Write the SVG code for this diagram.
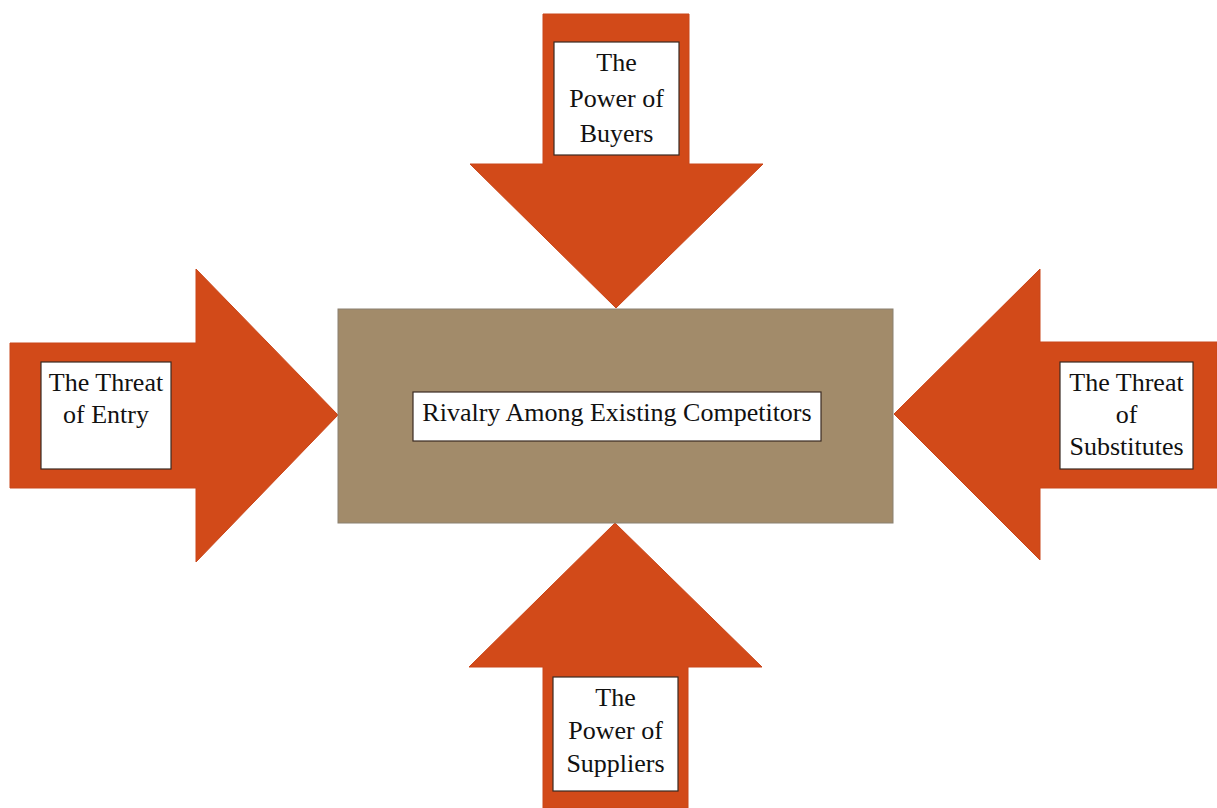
<svg xmlns="http://www.w3.org/2000/svg" width="1217" height="808" viewBox="0 0 1217 808">
  <style>
    .arrow { fill: #D24A19; stroke: #C9461A; stroke-width: 1; }
    .core { fill: #A28B6A; stroke: #8A8070; stroke-width: 1; }
    .box { fill: #FFFFFF; stroke: #3A2A22; stroke-width: 1.2; }
    .label { font-family: "Liberation Serif", "Times New Roman", serif; font-size: 26px; fill: #111111; text-anchor: middle; }
  </style>
  <rect width="1217" height="808" fill="#FFFFFF"/>

  <!-- block arrows pointing at the centre -->
  <g id="connectors">
    <polygon id="arrow-buyers" class="arrow" points="543,14 689,14 689,164 763,164 616,308 470,164 543,164"/>
    <polygon id="arrow-entry" class="arrow" points="10,343 196,343 196,269 338,415 196,562 196,488 10,488"/>
    <polygon id="arrow-substitutes" class="arrow" points="1217,342 1040,342 1040,269 894,414 1040,560 1040,488 1217,488"/>
    <polygon id="arrow-suppliers" class="arrow" points="543,808 543,667 469,667 615,523 762,667 688,667 688,808"/>
  </g>

  <!-- central force -->
  <g id="node-rivalry">
    <rect class="core" x="338" y="309" width="555" height="214"/>
    <rect class="box" x="413" y="392" width="408" height="49"/>
    <text class="label" x="617" y="421">Rivalry Among Existing Competitors</text>
  </g>

  <g id="node-buyers">
    <rect class="box" x="554" y="42" width="125" height="113"/>
    <text class="label" x="616.5" y="71">The</text>
    <text class="label" x="616.5" y="107">Power of</text>
    <text class="label" x="616.5" y="142">Buyers</text>
  </g>

  <g id="node-entry">
    <rect class="box" x="41" y="362" width="130" height="107"/>
    <text class="label" x="106" y="391">The Threat</text>
    <text class="label" x="106" y="423">of Entry</text>
  </g>

  <g id="node-substitutes">
    <rect class="box" x="1060" y="362" width="133" height="107"/>
    <text class="label" x="1126.5" y="391">The Threat</text>
    <text class="label" x="1126.5" y="423">of</text>
    <text class="label" x="1126.5" y="455">Substitutes</text>
  </g>

  <g id="node-suppliers">
    <rect class="box" x="553" y="677" width="125" height="114"/>
    <text class="label" x="615.5" y="706">The</text>
    <text class="label" x="615.5" y="739">Power of</text>
    <text class="label" x="615.5" y="772">Suppliers</text>
  </g>
</svg>
